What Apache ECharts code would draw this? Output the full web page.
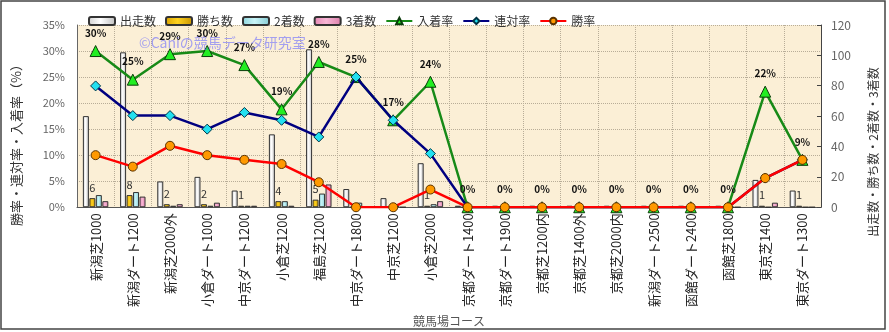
<!DOCTYPE html>
<html><head><meta charset="utf-8">
<script src="https://cdn.jsdelivr.net/npm/echarts@6/dist/echarts.min.js"></script>
<style>html,body{margin:0;padding:0;background:#fff}#c{width:889px;height:332px}</style>
</head><body><div id="c"></div>
<script>
const categories = ['新潟芝1000','新潟ダート1200','新潟芝2000外','小倉ダート1000','中京ダート1200','小倉芝1200','福島芝1200','中京ダート1800','中京芝1200','小倉芝2000','京都ダート1400','京都ダート1900','京都芝1200内','京都芝1400外','京都芝2000内','新潟ダート2500','函館ダート2400','函館芝1800','東京芝1400','東京ダート1300'];
const starts  = [60,102,17,20,11,48,104,12,6,29,1,1,1,1,1,1,1,1,18,11];
const wins    = [6,8,2,2,1,4,5,0,0,1,0,0,0,0,0,0,0,0,1,1];
const seconds = [8,10,1,1,1,4,9,3,1,2,0,0,0,0,0,0,0,0,0,0];
const thirds  = [4,7,2,3,1,1,15,0,0,4,0,0,0,0,0,0,0,0,3,0];
const placeRate  = [30.0,24.5,29.4,30.0,27.3,18.8,27.9,25.0,16.7,24.1,0,0,0,0,0,0,0,0,22.2,9.1];
const rentaiRate = [23.3,17.6,17.6,15.0,18.2,16.7,13.5,25.0,16.7,10.3,0,0,0,0,0,0,0,0,5.6,9.1];
const winRate    = [10.0,7.8,11.8,10.0,9.1,8.3,4.8,0,0,3.4,0,0,0,0,0,0,0,0,5.6,9.1];
const leftTicks = {min:0,max:35,interval:5};
const rightTicks = {min:0,max:120,interval:20};

const FONT = 'Noto Sans CJK JP';
const chart = echarts.init(document.getElementById('c'), null, {renderer:'canvas'});
function grad(a,b,c){return {type:'linear',x:0,y:0,x2:1,y2:0,colorStops:[{offset:0,color:a},{offset:0.45,color:b},{offset:1,color:c}]};}
const barBase = {type:'bar', yAxisIndex:1, barWidth:6, barGap:'8%'};
chart.setOption({
  animation:false,
  backgroundColor:'#ffffff',
  textStyle:{fontFamily:FONT},
  legend:{
    left:83, top:10, itemWidth:26, itemHeight:8, itemGap:9,
    textStyle:{fontSize:12,color:'#333',fontFamily:FONT},
    data:['出走数','勝ち数','2着数','3着数','入着率','連対率','勝率']
  },
  grid:{left:77, right:68, top:25, bottom:124, show:true, backgroundColor:'#fbefd6', borderWidth:0},
  xAxis:{
    type:'category', data:categories, boundaryGap:true,
    name:'競馬場コース', nameLocation:'middle', nameGap:101,
    nameTextStyle:{fontSize:12,color:'#555',fontFamily:FONT},
    axisLine:{lineStyle:{color:'#555',width:1}},
    axisTick:{show:false},
    splitLine:{show:true,lineStyle:{color:'#b8ad98',type:'dotted',width:1}},
    axisLabel:{rotate:90, interval:0, margin:6, fontSize:13, color:'#222', fontFamily:FONT}
  },
  yAxis:[
    {type:'value', min:leftTicks.min, max:leftTicks.max, interval:leftTicks.interval,
     axisLine:{show:true,lineStyle:{color:'#666'}}, axisTick:{show:false},
     axisLabel:{formatter:'{value}%', fontSize:11, color:'#666', margin:12},
     splitLine:{show:true,lineStyle:{color:'#b8ad98',type:'dotted',width:1}}},
    {type:'value', position:'right', min:rightTicks.min, max:rightTicks.max, interval:rightTicks.interval,
     axisLine:{show:true,lineStyle:{color:'#444'}}, axisTick:{show:true,inside:true,length:4,lineStyle:{color:'#444'}},
     axisLabel:{fontSize:12, color:'#666', margin:10},
     splitLine:{show:false}}
  ],
  graphic:[
    {type:'rect', shape:{x:1,y:1,width:884,height:328}, style:{fill:'none',stroke:'#444',lineWidth:1.5}, silent:true},
    {type:'text', x:139, y:43, style:{text:'©Caniの競馬データ研究室', fill:'rgba(105,105,255,0.6)', font:'14px "'+FONT+'"', textVerticalAlign:'middle'}, z:100},
    {type:'text', x:16, y:142, rotation:Math.PI/2, style:{text:'勝率・連対率・入着率（%）', fill:'#333', font:'13px "'+FONT+'"', textAlign:'center', textVerticalAlign:'middle'}},
    {type:'text', x:873, y:152, rotation:Math.PI/2, style:{text:'出走数・勝ち数・2着数・3着数', fill:'#333', font:'12px "'+FONT+'"', textAlign:'center', textVerticalAlign:'middle'}}
  ],
  series:[
    Object.assign({}, barBase, {name:'出走数', data:starts,
      itemStyle:{color:grad('#d0d0d0','#ffffff','#bdbdbd'), borderColor:'#333', borderWidth:1}}),
    Object.assign({}, barBase, {name:'勝ち数', data:wins,
      itemStyle:{color:grad('#d9a200','#ffd21f','#c89400'), borderColor:'#333', borderWidth:1},
      label:{show:true, position:'top', distance:5, fontSize:11, color:'#333', formatter:p=>p.value>0?String(p.value):''}}),
    Object.assign({}, barBase, {name:'2着数', data:seconds,
      itemStyle:{color:grad('#8fd6de','#c8f4f8','#84cbd3'), borderColor:'#333', borderWidth:1}}),
    Object.assign({}, barBase, {name:'3着数', data:thirds,
      itemStyle:{color:grad('#e586b3','#f8b6d6','#dc7eaa'), borderColor:'#333', borderWidth:1}}),
    {type:'line', name:'入着率', yAxisIndex:0, data:placeRate, z:3,
      symbol:'triangle', symbolSize:11,
      lineStyle:{color:'#178a17', width:2.5},
      itemStyle:{color:'#22ee22', borderColor:'#0b3d0b', borderWidth:1},
      label:{show:true, position:'top', distance:7, fontSize:10, fontWeight:'bold', color:'#111', formatter:p=>Math.round(p.value)+'%'}},
    {type:'line', name:'連対率', yAxisIndex:0, data:rentaiRate, z:4,
      symbol:'diamond', symbolSize:10,
      lineStyle:{color:'#000080', width:2.5},
      itemStyle:{color:'#22e0f0', borderColor:'#003344', borderWidth:1}},
    {type:'line', name:'勝率', yAxisIndex:0, data:winRate, z:5,
      symbol:'circle', symbolSize:9,
      lineStyle:{color:'#ff0000', width:2.5},
      itemStyle:{color:'#ff9900', borderColor:'#5a3300', borderWidth:1}}
  ]
});
</script></body></html>
